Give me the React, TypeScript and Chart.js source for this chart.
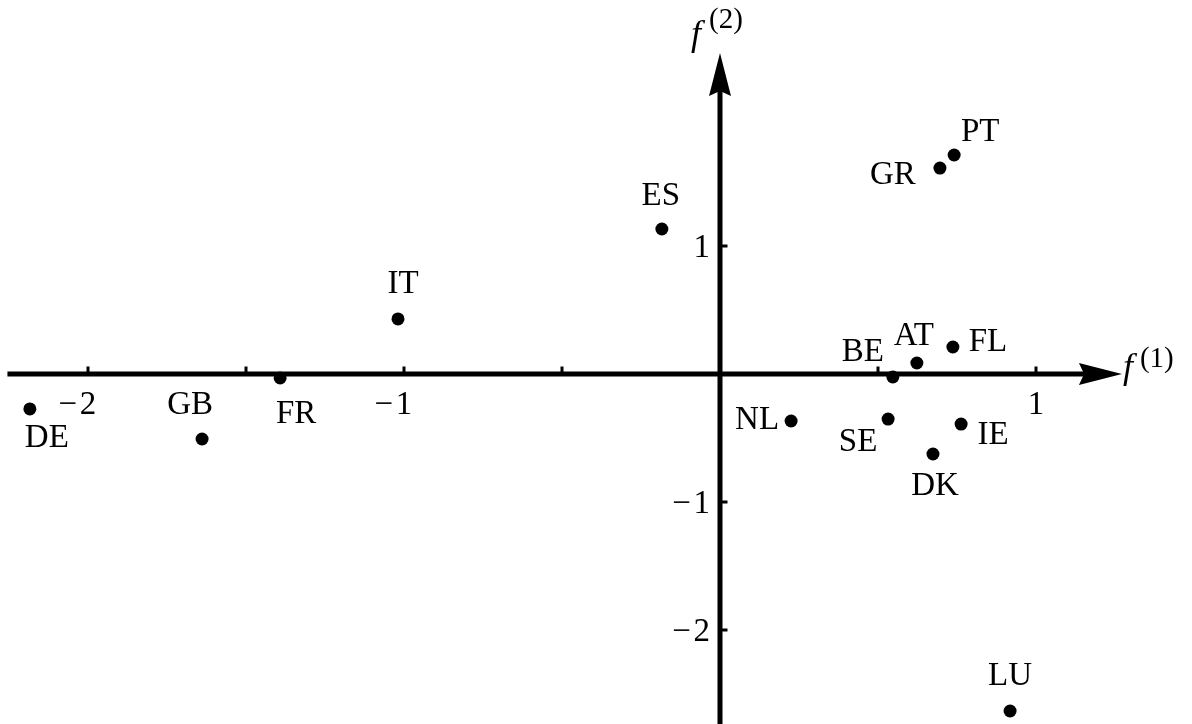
import React, { useEffect, useRef } from "react";
import { Chart, registerables } from "chart.js";

Chart.register(...registerables);

// ---- data ----
const countries = ["DE", "GB", "FR", "IT", "ES", "GR", "PT", "BE", "AT", "FL", "NL", "SE", "IE", "DK", "LU"];
const f1Values = [-2.184, -1.639, -1.392, -1.019, -0.184, 0.696, 0.741, 0.547, 0.623, 0.737, 0.225, 0.532, 0.763, 0.674, 0.918];
const f2Values = [-0.273, -0.508, -0.031, 0.43, 1.133, 1.609, 1.711, -0.023, 0.086, 0.211, -0.367, -0.352, -0.391, -0.625, -2.633];

const xTickValues = [-2, -1.5, -1, -0.5, 0.5, 1];
const xTickLabels = ["−2", "", "−1", "", "", "1"];
const yTickValues = [-2, -1, 1];
const yTickLabels = ["−2", "−1", "1"];

const xAxisTitle = ["f", "(1)"];
const yAxisTitle = ["f", "(2)"];

// ---- layout / style (not data) ----
const VIEW = { xMin: -2.2785, xMax: 1.4937, yMin: -2.7344, yMax: 2.9219 };
const AXIS_EXTENT = { xFrom: -2.255, xTo: 1.272, yFrom: -2.8, yTo: 2.507 };
// label centre offsets (px) from each dot, one per country
const labelOffsets: [number, number][] = [
  [17, 29], [-12, -34], [16, 36], [5, -35], [-1, -33], [-47, 7], [26, -23],
  [-30, -25], [-3, -27], [35, -5], [-34, -1], [-30, 23], [32, 11], [2, 32], [0, -35],
];
const SERIF = '"Liberation Serif", "Times New Roman", serif';

function drawArrow(ctx: CanvasRenderingContext2D, tx: number, ty: number, dx: number, dy: number) {
  const len = 43;
  const halfW = 11;
  const notch = 0.88;
  const px = -dy, py = dx;
  ctx.beginPath();
  ctx.moveTo(tx, ty);
  ctx.lineTo(tx - dx * len + px * halfW, ty - dy * len + py * halfW);
  ctx.lineTo(tx - dx * len * notch, ty - dy * len * notch);
  ctx.lineTo(tx - dx * len - px * halfW, ty - dy * len - py * halfW);
  ctx.closePath();
  ctx.fill();
}

function splitMinus(t: string) {
  return t.startsWith("−") ? "−\u200A" + t.slice(1) : t;
}

const axesPlugin = {
  id: "mathAxes",
  beforeDatasetsDraw(chart: any) {
    const ctx: CanvasRenderingContext2D = chart.ctx;
    const xs = chart.scales.x;
    const ys = chart.scales.y;
    const x0 = xs.getPixelForValue(0);
    const y0 = ys.getPixelForValue(0);
    ctx.save();
    ctx.fillStyle = "#000";
    ctx.strokeStyle = "#000";
    ctx.lineWidth = 5;
    ctx.lineCap = "butt";

    const xStart = xs.getPixelForValue(AXIS_EXTENT.xFrom);
    const xTip = xs.getPixelForValue(AXIS_EXTENT.xTo);
    const yStart = ys.getPixelForValue(AXIS_EXTENT.yFrom);
    const yTip = ys.getPixelForValue(AXIS_EXTENT.yTo);

    // x axis
    ctx.beginPath();
    ctx.moveTo(xStart, y0);
    ctx.lineTo(xTip - 35, y0);
    ctx.stroke();
    drawArrow(ctx, xTip, y0, 1, 0);
    // y axis
    ctx.beginPath();
    ctx.moveTo(x0, yStart);
    ctx.lineTo(x0, yTip + 35);
    ctx.stroke();
    drawArrow(ctx, x0, yTip, 0, -1);

    // ticks
    xTickValues.forEach((v) => {
      const p = xs.getPixelForValue(v);
      ctx.fillRect(p - 1.5, y0 - 7.5, 3, 6);
    });
    yTickValues.forEach((v) => {
      const p = ys.getPixelForValue(v);
      ctx.fillRect(x0 + 1.5, p - 1.5, 6, 3);
    });

    // tick labels
    ctx.font = `33px ${SERIF}`;
    const digitW = ctx.measureText("0").width;
    ctx.textBaseline = "alphabetic";
    ctx.textAlign = "right";
    xTickValues.forEach((v, i) => {
      const t = xTickLabels[i];
      if (!t) return;
      const p = xs.getPixelForValue(v);
      ctx.fillText(splitMinus(t), p + digitW / 2, y0 + 40);
    });
    yTickValues.forEach((v, i) => {
      const p = ys.getPixelForValue(v);
      ctx.fillText(splitMinus(yTickLabels[i]), x0 - 10, p + 11);
    });

    // axis titles
    ctx.textAlign = "left";
    ctx.font = `italic 36px ${SERIF}`;
    ctx.fillText(xAxisTitle[0], xTip + 1, y0 + 4);
    ctx.fillText(yAxisTitle[0], x0 - 29, yTip - 8);
    ctx.font = `29px ${SERIF}`;
    ctx.fillText(xAxisTitle[1], xTip + 18, y0 - 7);
    ctx.fillText(yAxisTitle[1], x0 - 11, yTip - 25);
    ctx.restore();
  },
  afterDatasetsDraw(chart: any) {
    const ctx: CanvasRenderingContext2D = chart.ctx;
    const meta = chart.getDatasetMeta(0);
    ctx.save();
    ctx.fillStyle = "#000";
    ctx.font = `33px ${SERIF}`;
    ctx.textAlign = "center";
    ctx.textBaseline = "middle";
    meta.data.forEach((pt: any, i: number) => {
      const [ox, oy] = labelOffsets[i];
      ctx.fillText(countries[i], pt.x + ox, pt.y + oy);
    });
    ctx.restore();
  },
};

export default function App() {
  const ref = useRef<HTMLCanvasElement>(null);
  useEffect(() => {
    document.body.style.margin = "0";
    const canvas = ref.current;
    if (!canvas) return;
    const chart = new Chart(canvas, {
      type: "scatter",
      data: {
        datasets: [
          {
            data: f1Values.map((x, i) => ({ x, y: f2Values[i] })),
            pointRadius: 6.5,
            pointHoverRadius: 6.5,
            pointBackgroundColor: "#000",
            pointBorderWidth: 0,
            clip: false as any,
          },
        ],
      },
      options: {
        animation: false,
        responsive: false,
        devicePixelRatio: 1,
        layout: { padding: 0, autoPadding: false },
        plugins: { legend: { display: false }, tooltip: { enabled: false } },
        events: [],
        scales: {
          x: { type: "linear", display: false, min: VIEW.xMin, max: VIEW.xMax },
          y: { type: "linear", display: false, min: VIEW.yMin, max: VIEW.yMax },
        },
      },
      plugins: [axesPlugin],
    });
    return () => chart.destroy();
  }, []);
  return (
    <div style={{ position: "absolute", left: 0, top: 0, width: 1192, height: 724, background: "#fff" }}>
      <canvas ref={ref} width={1192} height={724} style={{ display: "block" }} />
    </div>
  );
}
